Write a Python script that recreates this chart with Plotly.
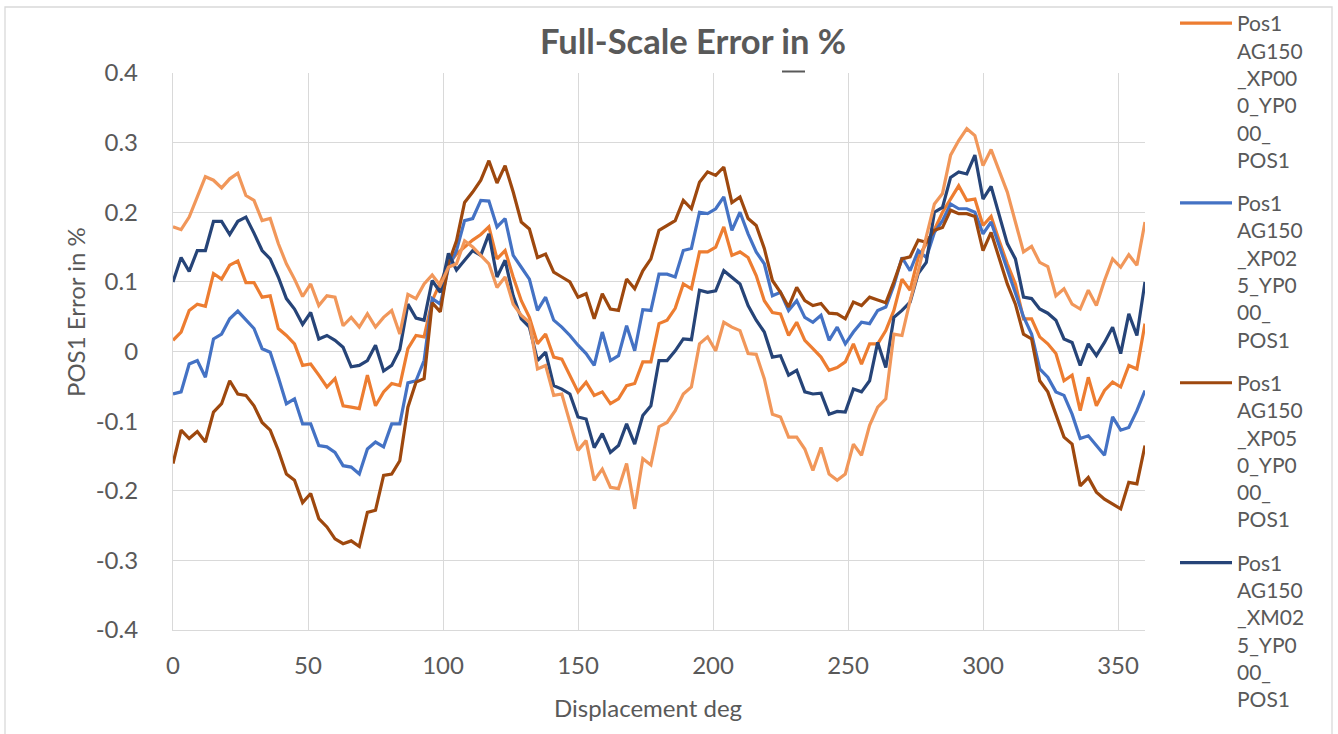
import plotly.graph_objects as go

# ---------------- data ----------------
deg = [0, 3, 6, 9, 12, 15, 18, 21, 24, 27,
       30, 33, 36, 39, 42, 45, 48, 51, 54, 57,
       60, 63, 66, 69, 72, 75, 78, 81, 84, 87,
       90, 93, 96, 99, 102, 105, 108, 111, 114, 117,
       120, 123, 126, 129, 132, 135, 138, 141, 144, 147,
       150, 153, 156, 159, 162, 165, 168, 171, 174, 177,
       180, 183, 186, 189, 192, 195, 198, 201, 204, 207,
       210, 213, 216, 219, 222, 225, 228, 231, 234, 237,
       240, 243, 246, 249, 252, 255, 258, 261, 264, 267,
       270, 273, 276, 279, 282, 285, 288, 291, 294, 297,
       300, 303, 306, 309, 312, 315, 318, 321, 324, 327,
       330, 333, 336, 339, 342, 345, 348, 351, 354, 357,
       360]

xp000 = [0.016, 0.028, 0.059, 0.068, 0.065, 0.112, 0.104, 0.124, 0.130, 0.099,
         0.099, 0.078, 0.080, 0.033, 0.023, 0.011, -0.020, -0.018, -0.034, -0.051,
         -0.039, -0.078, -0.080, -0.082, -0.034, -0.078, -0.058, -0.046, -0.049, 0.004,
         0.023, 0.021, 0.073, 0.100, 0.125, 0.140, 0.150, 0.160, 0.168, 0.179,
         0.133, 0.145, 0.107, 0.073, 0.049, 0.011, 0.025, -0.008, -0.011, -0.034,
         -0.058, -0.044, -0.063, -0.058, -0.075, -0.068, -0.049, -0.046, -0.015, -0.015,
         0.040, 0.045, 0.062, 0.097, 0.090, 0.143, 0.143, 0.150, 0.179, 0.138,
         0.143, 0.135, 0.109, 0.073, 0.056, 0.054, 0.023, 0.042, 0.016, 0.004,
         -0.008, -0.027, -0.023, -0.015, 0.011, -0.018, 0.011, 0.011, 0.030, 0.059,
         0.104, 0.088, 0.135, 0.155, 0.175, 0.200, 0.219, 0.238, 0.217, 0.219,
         0.181, 0.194, 0.159, 0.126, 0.097, 0.047, 0.047, 0.021, 0.011, -0.003,
         -0.042, -0.034, -0.085, -0.037, -0.078, -0.056, -0.044, -0.051, -0.020, -0.025,
         0.040]

xp025 = [-0.061, -0.058, -0.018, -0.013, -0.037, 0.018, 0.025, 0.047, 0.058, 0.045,
         0.033, 0.004, -0.001, -0.037, -0.075, -0.068, -0.104, -0.104, -0.135, -0.137,
         -0.145, -0.164, -0.166, -0.176, -0.140, -0.130, -0.137, -0.104, -0.104, -0.045,
         -0.042, -0.013, 0.076, 0.068, 0.120, 0.145, 0.188, 0.191, 0.217, 0.216,
         0.179, 0.191, 0.138, 0.121, 0.104, 0.059, 0.078, 0.045, 0.035, 0.023,
         0.009, -0.003, -0.020, 0.028, -0.013, -0.006, 0.037, 0.001, 0.060, 0.059,
         0.111, 0.111, 0.107, 0.145, 0.148, 0.200, 0.198, 0.205, 0.222, 0.174,
         0.200, 0.169, 0.143, 0.126, 0.080, 0.085, 0.059, 0.073, 0.049, 0.042,
         0.052, 0.016, 0.035, 0.011, 0.028, 0.042, 0.040, 0.059, 0.064, 0.095,
         0.135, 0.116, 0.145, 0.135, 0.171, 0.188, 0.212, 0.205, 0.205, 0.200,
         0.169, 0.186, 0.152, 0.116, 0.085, 0.050, 0.025, -0.025, -0.037, -0.058,
         -0.063, -0.090, -0.125, -0.121, -0.135, -0.149, -0.094, -0.113, -0.109, -0.085,
         -0.056]

xp050 = [-0.161, -0.113, -0.125, -0.115, -0.130, -0.087, -0.075, -0.042, -0.061, -0.063,
         -0.078, -0.102, -0.113, -0.142, -0.176, -0.185, -0.217, -0.204, -0.240, -0.252,
         -0.269, -0.276, -0.272, -0.280, -0.231, -0.228, -0.178, -0.176, -0.157, -0.080,
         -0.044, -0.039, 0.070, 0.057, 0.126, 0.159, 0.214, 0.229, 0.246, 0.274,
         0.242, 0.267, 0.229, 0.186, 0.176, 0.135, 0.140, 0.114, 0.107, 0.100,
         0.078, 0.083, 0.047, 0.083, 0.061, 0.059, 0.104, 0.090, 0.116, 0.133,
         0.174, 0.181, 0.188, 0.217, 0.205, 0.243, 0.258, 0.253, 0.265, 0.214,
         0.222, 0.191, 0.181, 0.148, 0.102, 0.085, 0.064, 0.092, 0.073, 0.066,
         0.069, 0.055, 0.054, 0.047, 0.071, 0.066, 0.078, 0.074, 0.070, 0.100,
         0.133, 0.136, 0.160, 0.157, 0.174, 0.178, 0.203, 0.198, 0.198, 0.194,
         0.145, 0.171, 0.135, 0.097, 0.068, 0.025, 0.018, -0.042, -0.058, -0.090,
         -0.123, -0.133, -0.193, -0.181, -0.202, -0.212, -0.219, -0.226, -0.188, -0.190,
         -0.135]

xm025 = [0.100, 0.135, 0.115, 0.145, 0.145, 0.187, 0.187, 0.168, 0.187, 0.193,
         0.170, 0.145, 0.133, 0.107, 0.076, 0.061, 0.039, 0.056, 0.018, 0.023,
         0.016, 0.006, -0.022, -0.020, -0.013, 0.009, -0.028, -0.020, 0.003, 0.068,
         0.048, 0.045, 0.102, 0.085, 0.141, 0.117, 0.131, 0.145, 0.138, 0.169,
         0.107, 0.131, 0.080, 0.047, 0.035, -0.013, -0.001, -0.049, -0.054, -0.061,
         -0.094, -0.097, -0.138, -0.118, -0.145, -0.135, -0.104, -0.133, -0.092, -0.078,
         -0.013, -0.013, 0.001, 0.018, 0.017, 0.088, 0.085, 0.087, 0.116, 0.107,
         0.097, 0.066, 0.045, 0.028, -0.008, -0.006, -0.034, -0.027, -0.058, -0.061,
         -0.060, -0.090, -0.086, -0.087, -0.054, -0.058, -0.042, 0.013, -0.023, 0.049,
         0.059, 0.071, 0.112, 0.128, 0.200, 0.207, 0.250, 0.258, 0.255, 0.282,
         0.219, 0.237, 0.198, 0.155, 0.133, 0.078, 0.076, 0.061, 0.055, 0.045,
         0.018, 0.013, -0.020, 0.011, -0.006, 0.013, 0.035, -0.003, 0.054, 0.023,
         0.100]

series5 = [0.179, 0.175, 0.193, 0.222, 0.251, 0.246, 0.235, 0.248, 0.256, 0.224,
           0.217, 0.188, 0.191, 0.155, 0.126, 0.104, 0.079, 0.097, 0.066, 0.080,
           0.078, 0.037, 0.049, 0.035, 0.054, 0.035, 0.049, 0.059, 0.025, 0.082,
           0.076, 0.097, 0.110, 0.095, 0.121, 0.126, 0.159, 0.150, 0.138, 0.126,
           0.092, 0.107, 0.068, 0.052, 0.042, -0.025, -0.020, -0.063, -0.061, -0.102,
           -0.142, -0.128, -0.185, -0.169, -0.195, -0.197, -0.161, -0.226, -0.154, -0.163,
           -0.108, -0.102, -0.085, -0.061, -0.051, 0.011, 0.021, 0.001, 0.042, 0.035,
           0.030, -0.003, -0.004, -0.039, -0.090, -0.094, -0.123, -0.123, -0.140, -0.171,
           -0.138, -0.176, -0.185, -0.176, -0.133, -0.149, -0.106, -0.080, -0.068, 0.025,
           0.023, 0.073, 0.115, 0.165, 0.212, 0.227, 0.282, 0.303, 0.320, 0.310,
           0.267, 0.290, 0.258, 0.229, 0.186, 0.143, 0.151, 0.128, 0.122, 0.080,
           0.090, 0.068, 0.061, 0.088, 0.066, 0.102, 0.133, 0.121, 0.139, 0.124,
           0.186]

series_names = [
    "Pos1<br>AG150<br>_XP00<br>0_YP0<br>00_<br>POS1",
    "Pos1<br>AG150<br>_XP02<br>5_YP0<br>00_<br>POS1",
    "Pos1<br>AG150<br>_XP05<br>0_YP0<br>00_<br>POS1",
    "Pos1<br>AG150<br>_XM02<br>5_YP0<br>00_<br>POS1",
    "Series 5",
]
series_values = [xp000, xp025, xp050, xm025, series5]
series_colors = ["#ED7D31", "#4472C4", "#9E480E", "#264478", "#F1975A"]
series_in_legend = [True, True, True, True, False]

x_tickvals = [0, 50, 100, 150, 200, 250, 300, 350]
x_ticktext = ["0", "50", "100", "150", "200", "250", "300", "350"]
y_tickvals = [-0.4, -0.3, -0.2, -0.1, 0, 0.1, 0.2, 0.3, 0.4]
y_ticktext = ["-0.4", "-0.3", "-0.2", "-0.1", "0", "0.1", "0.2", "0.3", "0.4"]

chart_title = "Full-Scale Error in %"
x_title = "Displacement deg"
y_title = "POS1 Error in %"

# ---------------- figure ----------------
W, H = 1338, 734
L, R, T, B = 173, 1145, 73, 630  # plot area in pixels
FONT = "Lato, Carlito, Calibri, sans-serif"
GREY = "#595959"
GRID = "#D9D9D9"


def px_x(p):
    return (p - L) / (R - L)


def px_y(p):
    return (B - p) / (B - T)


fig = go.Figure()
for i, (name, vals, col, show) in enumerate(zip(series_names, series_values,
                                                 series_colors, series_in_legend)):
    fig.add_trace(go.Scatter(
        x=deg, y=vals, mode="lines", name=name, showlegend=show,
        legendgroup="g%d" % i,
        line=dict(color=col, width=3.2),
    ))

fig.update_layout(
    width=W, height=H,
    margin=dict(l=L, r=W - R, t=T, b=H - B, pad=0),
    paper_bgcolor="white", plot_bgcolor="white",
    font=dict(family=FONT, color=GREY),
    title=dict(text="<b>%s</b>" % chart_title, x=693 / W, y=1 - 42 / H,
               xref="container", yref="container", xanchor="center", yanchor="middle",
               font=dict(size=34.5, color=GREY, family=FONT)),
    xaxis=dict(range=[0, 360], tickvals=x_tickvals, ticktext=x_ticktext,
               showgrid=True, gridcolor=GRID, gridwidth=1.3, zeroline=False,
               showline=True, linecolor=GRID, linewidth=1.3,
               ticks="", ticklabelstandoff=14,
               tickfont=dict(size=24, color=GREY, family=FONT)),
    yaxis=dict(range=[-0.4, 0.4], tickvals=y_tickvals, ticktext=y_ticktext,
               showgrid=True, gridcolor=GRID, gridwidth=1.3, zeroline=False,
               showline=True, linecolor=GRID, linewidth=1.3,
               ticks="", ticklabelstandoff=29,
               tickfont=dict(size=24, color=GREY, family=FONT)),
    legend=dict(x=1175 / W, y=1 - 3 / H, xanchor="left", yanchor="top",
                xref="container", yref="container",
                font=dict(size=21, color=GREY, family=FONT),
                valign="top", tracegroupgap=13, itemwidth=52, maxheight=1.0,
                bgcolor="rgba(0,0,0,0)"),
    showlegend=True,
    hovermode=False,
)

fig.add_annotation(text=y_title, x=px_x(75), y=px_y(312), xref="paper", yref="paper",
                   xanchor="center", yanchor="middle", textangle=-90, showarrow=False,
                   font=dict(size=24, color=GREY, family=FONT))
fig.add_annotation(text=x_title, x=px_x(648), y=px_y(707), xref="paper", yref="paper",
                   xanchor="center", yanchor="middle", showarrow=False,
                   font=dict(size=24, color=GREY, family=FONT))

# chart-area border and the small mark below the title
fig.add_shape(type="rect", xref="paper", yref="paper",
              x0=px_x(5), x1=px_x(1332), y0=px_y(745), y1=px_y(7),
              line=dict(color=GRID, width=1.3), fillcolor="rgba(0,0,0,0)", layer="below")
fig.add_shape(type="line", xref="paper", yref="paper",
              x0=px_x(782), x1=px_x(805), y0=px_y(71.5), y1=px_y(71.5),
              line=dict(color=GREY, width=2))

fig.write_html("out.html", include_plotlyjs=True, full_html=True,
               config={"displayModeBar": False},
               post_script="document.body.style.margin='0';document.body.style.overflow='hidden';")
